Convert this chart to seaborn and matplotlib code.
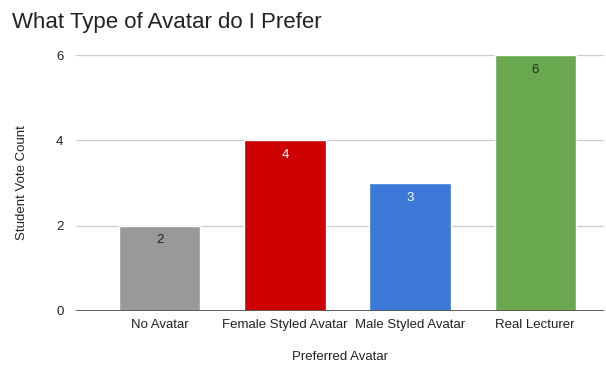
import matplotlib
matplotlib.use("Agg")
import matplotlib.pyplot as plt
import seaborn as sns
import pandas as pd

categories = ["No Avatar", "Female Styled Avatar", "Male Styled Avatar", "Real Lecturer"]
votes = [2, 4, 3, 6]
colors = ["#999999", "#cc0000", "#3c78d8", "#6aa84f"]
label_colors = ["#222222", "#ffffff", "#ffffff", "#1a2e12"]
y_ticks = [0, 2, 4, 6]

sns.set_theme(style="white")
plt.rcParams["font.family"] = ["Liberation Sans", "DejaVu Sans"]

df = pd.DataFrame({"Preferred Avatar": categories, "Student Vote Count": votes})

fig = plt.figure(figsize=(6.06, 3.67), dpi=100)
ax = fig.add_axes([0.1254, 0.1526, 0.8713, 0.6975])

sns.barplot(data=df, x="Preferred Avatar", y="Student Vote Count",
            hue="Preferred Avatar", palette=colors, legend=False,
            width=0.65, saturation=1, ax=ax, zorder=3)

ax.set_xlim(-0.67, 3.55)
ax.set_ylim(0, 6)
ax.set_yticks(y_ticks)
ax.yaxis.grid(True, color="#cccccc", linewidth=0.9, zorder=0)
ax.axhline(0, color="#555555", linewidth=1.3, zorder=4)
for s in ax.spines.values():
    s.set_visible(False)
ax.tick_params(axis="both", length=0, labelsize=9.5, colors="#222222")
ax.tick_params(axis="y", pad=9)
ax.tick_params(axis="x", pad=6)

for bar, v, c in zip(ax.patches, votes, label_colors):
    ax.text(bar.get_x() + bar.get_width() / 2, v - 0.2, str(v),
            ha="center", va="top", fontsize=9.5, color=c, zorder=5)

ax.set_xlabel("Preferred Avatar", fontsize=9.5, color="#222222", labelpad=14)
ax.set_ylabel("Student Vote Count", fontsize=9.5, color="#222222", labelpad=20)

fig.text(0.02, 0.94, "What Type of Avatar do I Prefer", fontsize=16,
         color="#222222", ha="left", va="center")

fig.savefig("out.png", dpi=100, facecolor="white")
